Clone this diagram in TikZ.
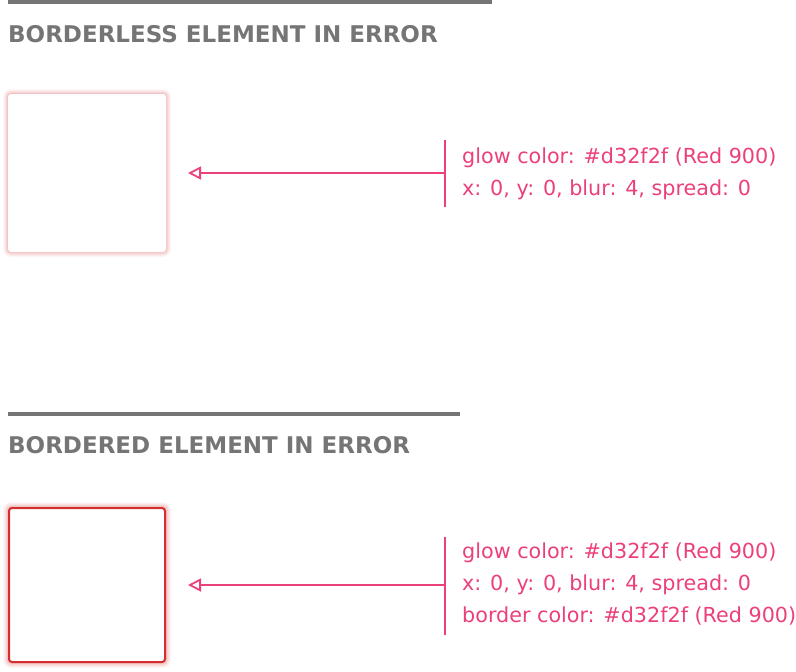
\documentclass[tikz,border=0pt]{standalone}
\usepackage{fontspec}
\setmainfont{DejaVu Sans}
\usetikzlibrary{arrows.meta}
\definecolor{headgray}{HTML}{757575}
\definecolor{annpink}{HTML}{EC407A}
\definecolor{red900}{HTML}{D32F2F}
\tikzset{
  rulebar/.style={draw=headgray, line width=4pt},
  heading/.style={anchor=base west, inner sep=0pt, text=headgray, font=\fontsize{23}{28}\selectfont\bfseries},
  annot/.style={anchor=base west, inner sep=0pt, text=annpink, font=\fontsize{20.7}{24}\selectfont},
  pointer/.style={draw=annpink, line width=1.8pt, -{Triangle[open, length=13pt, width=13pt, line width=1.8pt]}},
  bracket/.style={draw=annpink, line width=2pt},
  elembox/.style={draw=none, fill=white, rounded corners=3pt},
}
\begin{document}
\begin{tikzpicture}[x=1pt, y=-1pt]
\useasboundingbox (0,0) rectangle (796,672);
% ---- section 1 ----
\draw[rulebar] (8,2) -- (492,2);
\node[heading] (h1) at (8,42) {BORDERLESS ELEMENT IN ERROR};
% glow layers
\foreach \g/\o in {5/0.04,4/0.05,3/0.06,2/0.08,1/0.10}{
  \fill[red900, opacity=\o, rounded corners=3pt+\g pt] (8-\g,94-\g) rectangle (166+\g,252+\g);
}
\node[elembox, minimum width=158pt, minimum height=158pt] (b1) at (87,173) {};
\coordinate (t1) at (445,173);
\draw[bracket] (445,140) -- (445,207);
\draw[pointer] (t1) -- (188,173);
\node[annot] (a1) at (462,163) {glow color: \#d32f2f (Red 900)};
\node[annot] (a2) at (462,195) {x: 0, y: 0, blur: 4, spread: 0};
% ---- section 2 ----
\draw[rulebar] (8,414) -- (460,414);
\node[heading] (h2) at (8,453) {BORDERED ELEMENT IN ERROR};
\foreach \g/\o in {5/0.04,4/0.05,3/0.06,2/0.08,1/0.10}{
  \fill[red900, opacity=\o, rounded corners=3pt+\g pt] (8-\g,507-\g) rectangle (166+\g,663+\g);
}
\node[elembox, draw=red900, line width=2pt, minimum width=156pt, minimum height=154pt] (b2) at (87,585) {};
\coordinate (t2) at (445,585);
\draw[bracket] (445,537) -- (445,635);
\draw[pointer] (t2) -- (188,585);
\node[annot] (c1) at (462,558) {glow color: \#d32f2f (Red 900)};
\node[annot] (c2) at (462,590) {x: 0, y: 0, blur: 4, spread: 0};
\node[annot] (c3) at (462,622) {border color: \#d32f2f (Red 900)};
\end{tikzpicture}
\end{document}
